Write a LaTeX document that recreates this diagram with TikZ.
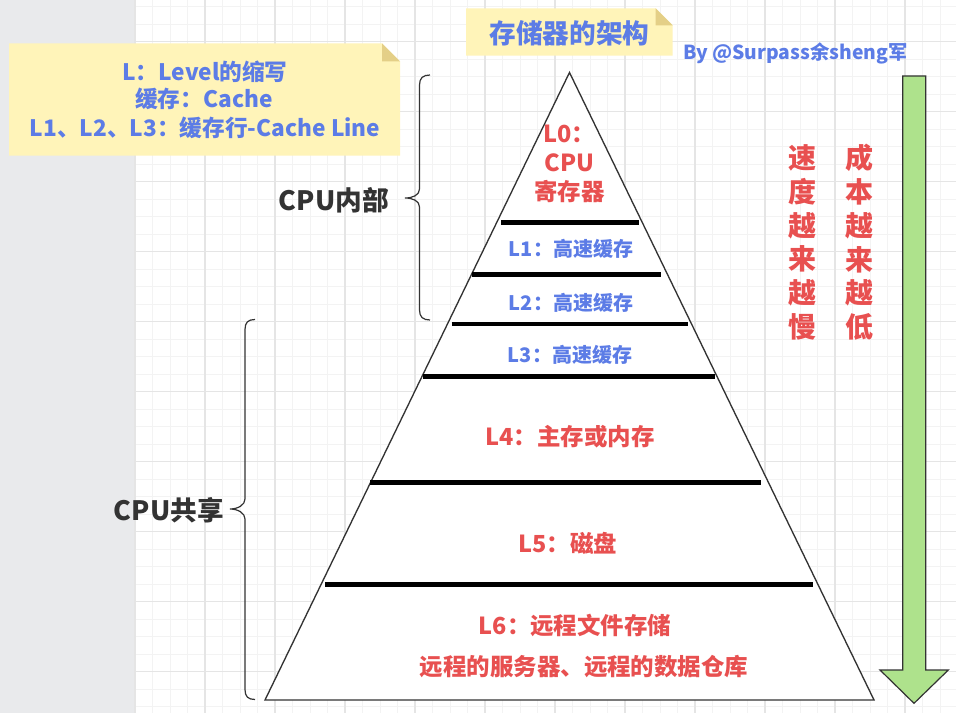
\documentclass[tikz,border=0pt]{standalone}
\usepackage{fontspec}
\setmainfont{Noto Sans CJK SC}
\definecolor{cred}{RGB}{232,80,80}
\definecolor{cblue}{RGB}{92,124,230}
\definecolor{cdark}{RGB}{51,51,51}
\definecolor{cgreen}{RGB}{174,226,140}
\definecolor{notebg}{RGB}{255,244,185}
\definecolor{notefold}{RGB}{228,207,135}
\definecolor{gridminor}{RGB}{243,243,243}
\definecolor{gridmajor}{RGB}{229,229,229}
\definecolor{sidegray}{RGB}{233,234,236}
\tikzset{
  minorline/.style={draw=gridminor, line width=0.75pt},
  majorline/.style={draw=gridmajor, line width=0.9pt},
  lvlbar/.style={draw=black, line width=3.4pt},
  redlbl/.style={text=cred, font=\fontsize{17.6}{22}\selectfont\bfseries, inner sep=0pt, align=center},
  bluelbl/.style={text=cblue, font=\fontsize{15}{18}\selectfont\bfseries, inner sep=0pt},
  notetxt/.style={text=cblue, font=\fontsize{17}{21.2}\selectfont\bfseries, inner sep=0pt, align=center},
  cpulbl/.style={text=cdark, font=\fontsize{20}{24}\selectfont\bfseries, inner sep=0pt, anchor=east},
  vertlbl/.style={text=cred, font=\fontsize{21}{25.3}\selectfont\bfseries, inner sep=0pt, align=center},
  bracepath/.style={draw=cdark, line width=0.9pt},
}
\begin{document}
\begin{tikzpicture}[x=0.75pt,y=-0.75pt]
\useasboundingbox (0,0) rectangle (956,713);
\fill[white] (0,0) rectangle (956,713);
\fill[sidegray] (0,0) rectangle (135,713);
% grid
\foreach \i in {0,...,46} \draw[minorline] ({135+17.5*\i},0) -- ({135+17.5*\i},713);
\foreach \j in {0,...,40} \draw[minorline] (135,{6.7+17.5*\j}) -- (956,{6.7+17.5*\j});
\foreach \i in {0,...,11} \draw[majorline] ({135+70*\i},0) -- ({135+70*\i},713);
\foreach \j in {0,...,9} \draw[majorline] (135,{41.7+70*\j}) -- (956,{41.7+70*\j});

% left note
\fill[notebg] (9,43.3) -- (382,43.3) -- (400,61.3) -- (400,155.7) -- (9,155.7) -- cycle;
\fill[notefold] (382,43.3) -- (382,61.3) -- (400,61.3) -- cycle;
\node[notetxt] (n1) at (205,71.7) {L：Level的缩写};
\node[notetxt] (n2) at (204,99.3) {缓存：Cache};
\node[notetxt] (n3) at (205,128.3) {L1、L2、L3：缓存行-Cache Line};

% title note
\fill[notebg] (466,8.3) -- (655.7,8.3) -- (672.7,25.3) -- (672.7,55.7) -- (466,55.7) -- cycle;
\fill[notefold] (655.7,8.3) -- (655.7,25.3) -- (672.7,25.3) -- cycle;
\node[text=cblue, font=\fontsize{20}{24}\selectfont\bfseries, inner sep=0pt] (title) at (569.4,33) {存储器的架构};
\node[text=cblue, font=\fontsize{14.5}{17}\selectfont\bfseries, inner sep=0pt] (author) at (795.5,53.5) {By @Surpass余sheng军};

% pyramid
\coordinate (apex) at (569.5,72.5);
\coordinate (bl) at (265,700);
\coordinate (br) at (874,700);
\filldraw[fill=white, draw=cdark, line width=1pt] (apex) -- (bl) -- (br) -- cycle;
\coordinate (b1l) at (501,222.7);   \coordinate (b1r) at (639,222.7);
\coordinate (b2l) at (471.7,274.3); \coordinate (b2r) at (661,274.3);
\coordinate (b3l) at (451.7,324);   \coordinate (b3r) at (687.7,324);
\coordinate (b4l) at (423.3,376.3); \coordinate (b4r) at (715,376.3);
\coordinate (b5l) at (370,482.3);   \coordinate (b5r) at (761,482.3);
\coordinate (b6l) at (325,584.3);   \coordinate (b6r) at (813.3,584.3);
\draw[lvlbar] (b1l) -- (b1r);
\draw[lvlbar] (b2l) -- (b2r);
\draw[lvlbar] (b3l) -- (b3r);
\draw[lvlbar] (b4l) -- (b4r);
\draw[lvlbar] (b5l) -- (b5r);
\draw[lvlbar] (b6l) -- (b6r);

\node[redlbl] (l0) at (569.5,164) {L0：\\CPU\\寄存器};
\node[bluelbl] (l1) at (571,249) {L1：高速缓存};
\node[bluelbl] (l2) at (571,303.3) {L2：高速缓存};
\node[bluelbl] (l3) at (570,355) {L3：高速缓存};
\node[redlbl] (l4) at (570,437) {L4：主存或内存};
\node[redlbl] (l5) at (568,543.5) {L5：磁盘};
\node[redlbl] (l6a) at (575,625) {L6：远程文件存储};
\node[redlbl] (l6b) at (584,666.7) {远程的服务器、远程的数据仓库};

% braces
\draw[bracepath] (430,75) .. controls (423,75) and (419.5,78) .. (419.5,85) -- (419.5,189)
  .. controls (419.5,195) and (413,198) .. (405,198)
  .. controls (413,198) and (419.5,201) .. (419.5,207) -- (419.5,310)
  .. controls (419.5,317) and (423,320) .. (430,320);
\node[cpulbl] (cpuin) at (389,200) {CPU内部};
\draw[bracepath] (255,319.5) .. controls (248,319.5) and (245,322.5) .. (245,329.5) -- (245,499)
  .. controls (245,505) and (238,509) .. (230,509)
  .. controls (238,509) and (245,513) .. (245,519) -- (245,689.5)
  .. controls (245,696.5) and (248,699.5) .. (255,699.5);
\node[cpulbl] (cpush) at (224,510) {CPU共享};

% vertical texts
\node[vertlbl] (speed) at (802.3,242.5) {速\\度\\越\\来\\越\\慢};
\node[vertlbl] (cost) at (859,242.5) {成\\本\\越\\来\\越\\低};

% green arrow
\filldraw[fill=cgreen, draw=cdark, line width=0.9pt] (902.7,76) -- (925.7,76) -- (925.7,670) -- (948.3,670) -- (914,703.3) -- (880,670) -- (902.7,670) -- cycle;
\end{tikzpicture}
\end{document}
